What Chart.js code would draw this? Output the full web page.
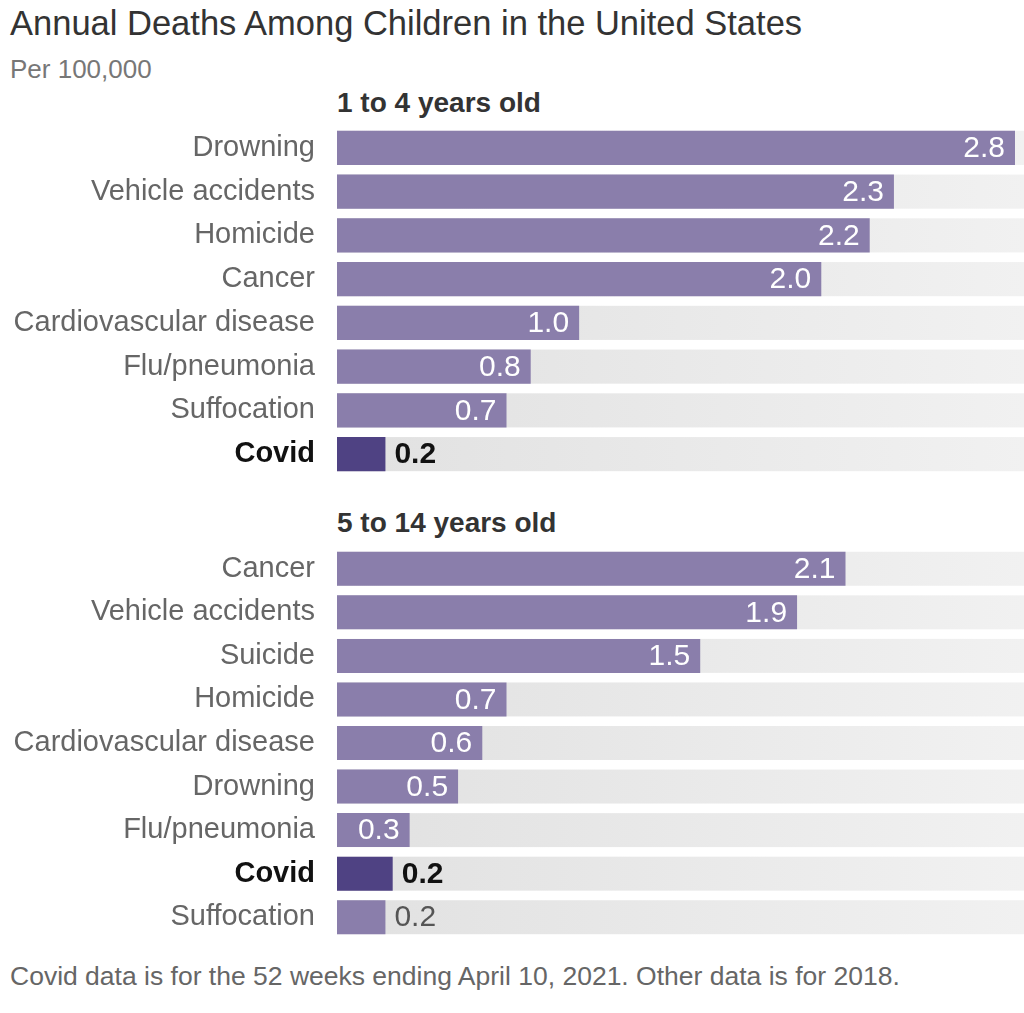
<!DOCTYPE html>
<html>
<head>
<meta charset="utf-8">
<script src="https://cdn.jsdelivr.net/npm/chart.js@4.4.1/dist/chart.umd.min.js"></script>
<style>
    body { margin: 0; background: #fff; width: 1024px; height: 1013px; position: relative; overflow: hidden;
           font-family: "Liberation Sans", Arial, sans-serif; }
    .txt { position: absolute; white-space: nowrap; }
    #title { left: 10px; top: 6px; font-size: 34.5px; line-height: 34px; color: #333; }
    #subtitle { left: 10px; top: 56px; font-size: 26px; line-height: 26px; color: #777; }
    .head { left: 337px; font-size: 28px; line-height: 28px; font-weight: bold; color: #333; }
    #head1 { top: 89px; }
    #head2 { top: 509px; }
    #note { left: 10px; top: 963px; font-size: 26.5px; line-height: 26px; color: #666; }
    .panel { position: absolute; left: 0; width: 1024px; }
    #panel1 { top: 126px; height: 350px; }
    #panel2 { top: 547px; height: 392px; }
</style>
</head>
<body>
<div class="txt" id="title">Annual Deaths Among Children in the United States</div>
<div class="txt" id="subtitle">Per 100,000</div>
<div class="txt head" id="head1">1 to 4 years old</div>
<div class="txt head" id="head2">5 to 14 years old</div>
<div class="panel" id="panel1"><canvas id="chart1"></canvas></div>
<div class="panel" id="panel2"><canvas id="chart2"></canvas></div>
<div class="txt" id="note">Covid data is for the 52 weeks ending April 10, 2021. Other data is for 2018.</div>

<script>
// Data (deaths per 100,000)
const youngCauses = ['Drowning', 'Vehicle accidents', 'Homicide', 'Cancer', 'Cardiovascular disease', 'Flu/pneumonia', 'Suffocation', 'Covid'];
const youngRates = [2.8, 2.3, 2.2, 2.0, 1.0, 0.8, 0.7, 0.2];

const olderCauses = ['Cancer', 'Vehicle accidents', 'Suicide', 'Homicide', 'Cardiovascular disease', 'Drowning', 'Flu/pneumonia', 'Covid', 'Suffocation'];
const olderRates = [2.1, 1.9, 1.5, 0.7, 0.6, 0.5, 0.3, 0.23, 0.2];

const FONT = '"Liberation Sans", Arial, sans-serif';
const BAR = '#8a7eab';
const COVID = '#4f4283';
const scaleMax = Math.max(...youngRates, ...olderRates);

// grey track behind every bar, full width of the plot
const trackPlugin = {
    id: 'track',
    beforeDatasetsDraw(chart) {
        const { ctx, chartArea } = chart;
        const grad = ctx.createLinearGradient(chartArea.left, 0, chartArea.right + 9, 0);
        grad.addColorStop(0, '#e1e1e1');
        grad.addColorStop(1, '#f1f1f1');
        ctx.save();
        ctx.fillStyle = grad;
        chart.getDatasetMeta(0).data.forEach(bar => {
            ctx.fillRect(chartArea.left, bar.y - bar.height / 2, chartArea.right + 9 - chartArea.left, bar.height);
        });
        ctx.restore();
    }
};

// value labels: inside the bar end when it fits, otherwise just after it
const valuePlugin = {
    id: 'values',
    afterDatasetsDraw(chart) {
        const { ctx } = chart;
        const labels = chart.data.labels;
        const vals = chart.data.datasets[0].data;
        ctx.save();
        ctx.textBaseline = 'middle';
        chart.getDatasetMeta(0).data.forEach((bar, i) => {
            const covid = labels[i] === 'Covid';
            const txt = vals[i].toFixed(1);
            ctx.font = (covid ? 'bold ' : '') + '30px ' + FONT;
            const w = ctx.measureText(txt).width;
            if (bar.x - bar.base > w + 20) {
                ctx.fillStyle = '#fff';
                ctx.textAlign = 'right';
                ctx.fillText(txt, bar.x - 10, bar.y + 1);
            } else {
                ctx.fillStyle = covid ? '#111' : '#555';
                ctx.textAlign = 'left';
                ctx.fillText(txt, bar.x + 9, bar.y + 1);
            }
        });
        ctx.restore();
    }
};

function makePanel(id, causes, rates) {
    const ctx = document.getElementById(id).getContext('2d');
    return new Chart(ctx, {
        type: 'bar',
        data: {
            labels: causes,
            datasets: [{
                data: rates,
                backgroundColor: c => causes[c.dataIndex] === 'Covid' ? COVID : BAR,
                categoryPercentage: 1,
                barPercentage: 0.78,
                borderWidth: 0
            }]
        },
        options: {
            indexAxis: 'y',
            responsive: true,
            maintainAspectRatio: false,
            animation: false,
            layout: { padding: { left: 0, right: 9, top: 0, bottom: 0 } },
            scales: {
                x: { display: false, min: 0, max: scaleMax },
                y: {
                    grid: { display: false, drawTicks: false },
                    border: { display: false },
                    ticks: {
                        padding: 22,
                        color: c => causes[c.index] === 'Covid' ? '#111' : '#666',
                        font: c => ({ family: FONT, size: 29, weight: causes[c.index] === 'Covid' ? 'bold' : 'normal' })
                    },
                    afterFit(scale) {
                        // fixed gutter for the labels, no extra padding above/below
                        scale.width = 337;
                        scale.paddingTop = 0;
                        scale.paddingBottom = 0;
                    }
                }
            },
            plugins: { legend: { display: false }, tooltip: { enabled: false } }
        },
        plugins: [trackPlugin, valuePlugin]
    });
}

makePanel('chart1', youngCauses, youngRates);
makePanel('chart2', olderCauses, olderRates);
</script>
</body>
</html>
